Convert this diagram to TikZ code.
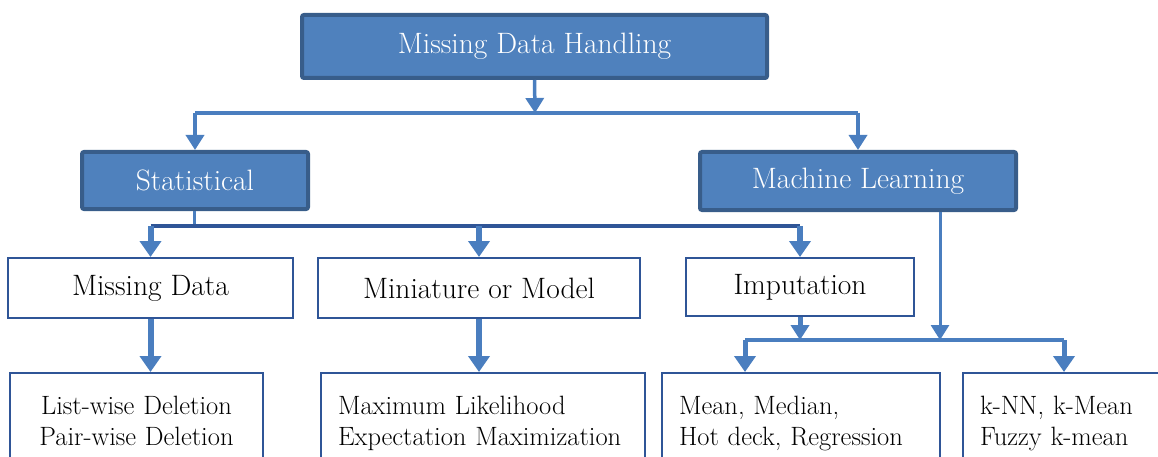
\documentclass[tikz,border=0pt]{standalone}
\usepackage{tikz}
\usetikzlibrary{arrows.meta,positioning}
\definecolor{hdfill}{HTML}{4F81BD}
\definecolor{hdline}{HTML}{385D8A}
\definecolor{arrblue}{HTML}{4A7EBF}
\definecolor{boxline}{HTML}{2F5597}
\tikzset{
headbox/.style = {rectangle, rounded corners=2pt, draw=hdline, fill=hdfill, line width=4pt, text=white, font=\fontsize{29.5}{34}\selectfont},% blue heading
catbox/.style = {rectangle, draw=boxline, fill=white, line width=2pt, font=\fontsize{29.5}{34}\selectfont},% white box
leafbox/.style = {catbox, anchor=north, inner xsep=17pt, inner ysep=23pt, font=\fontsize{26.5}{31.5}\selectfont},% open box at the bottom
busline/.style = {draw=arrblue, line width=4pt},
darkbus/.style = {draw=boxline, line width=4pt},
thinarr/.style = {draw=arrblue, line width=3.5pt, -{Triangle[length=15pt,width=18pt]}},
fatarr/.style = {draw=arrblue, line width=6pt, -{Triangle[length=16pt,width=21pt]}}
}
\begin{document}
\begin{tikzpicture}[x=1pt,y=-1pt]
  \useasboundingbox (0,0) rectangle (1158,457);
  \clip (0,0) rectangle (1158,457);
  % headings
  \node [headbox, minimum width=465pt, minimum height=63pt] (mdh) at (534.5,46.5) {Missing Data Handling};
  \node [headbox, minimum width=226pt, minimum height=57pt] (stat) at (195,180.5) {Statistical};
  \node [headbox, minimum width=316pt, minimum height=58pt] (ml) at (858,181) {Machine Learning};
  % methods
  \node [catbox, minimum width=285pt, minimum height=60pt] (md) at (150.5,288) {Missing Data};
  \node [catbox, minimum width=322pt, minimum height=60pt] (mm) at (479,288) {Miniature or Model};
  \node [catbox, minimum width=228pt, minimum height=58pt] (imp) at (800,287) {Imputation};
  % techniques
  \node [leafbox, text width=219pt, align=center] (ld) at (136.5,372) {List-wise Deletion\\Pair-wise Deletion};
  \node [leafbox, text width=290pt, align=left] (mx) at (483,372) {Maximum Likelihood\\Expectation Maximization};
  \node [leafbox, text width=244pt, align=left] (mean) at (801,372) {Mean, Median,\\Hot deck, Regression};
  \node [leafbox, text width=196pt, align=left] (knn) at (1078,372) {k-NN, k-Mean\\Fuzzy k-mean};
  % bus points
  \coordinate (topbus) at (535,113);
  \coordinate (statbus) at (194,226);
  \coordinate (mlbus) at (940,340);
  \coordinate (mlbusL) at (745,340);
  \coordinate (mlbusR) at (1064,340);
  % connectors
  \draw [thinarr] (mdh.south) -- (topbus);
  \draw [busline] (stat.north |- topbus) -- (ml.north |- topbus);
  \draw [thinarr] (stat.north |- topbus) -- (stat.north);
  \draw [thinarr] (ml.north |- topbus) -- (ml.north);
  \draw [busline, line width=3pt] (stat.south -| statbus) -- (statbus);
  \draw [darkbus] (md.north |- statbus) -- (imp.north |- statbus);
  \draw [fatarr] (md.north |- statbus) -- (md.north);
  \draw [fatarr] (mm.north |- statbus) -- (mm.north);
  \draw [fatarr] (imp.north |- statbus) -- (imp.north);
  \draw [fatarr] (md.south) -- (md.south |- ld.north);
  \draw [fatarr] (mm.south) -- (mm.south |- mx.north);
  \draw [thinarr, line width=5pt] (imp.south) -- (imp.south |- mlbus);
  \draw [thinarr, line width=3pt] (ml.south -| mlbus) -- (mlbus);
  \draw [busline] (mlbusL) -- (mlbusR);
  \draw [fatarr, line width=5pt] (mlbusL) -- (mlbusL |- mean.north);
  \draw [fatarr, line width=5pt] (mlbusR) -- (mlbusR |- knn.north);
\end{tikzpicture}
\end{document}
